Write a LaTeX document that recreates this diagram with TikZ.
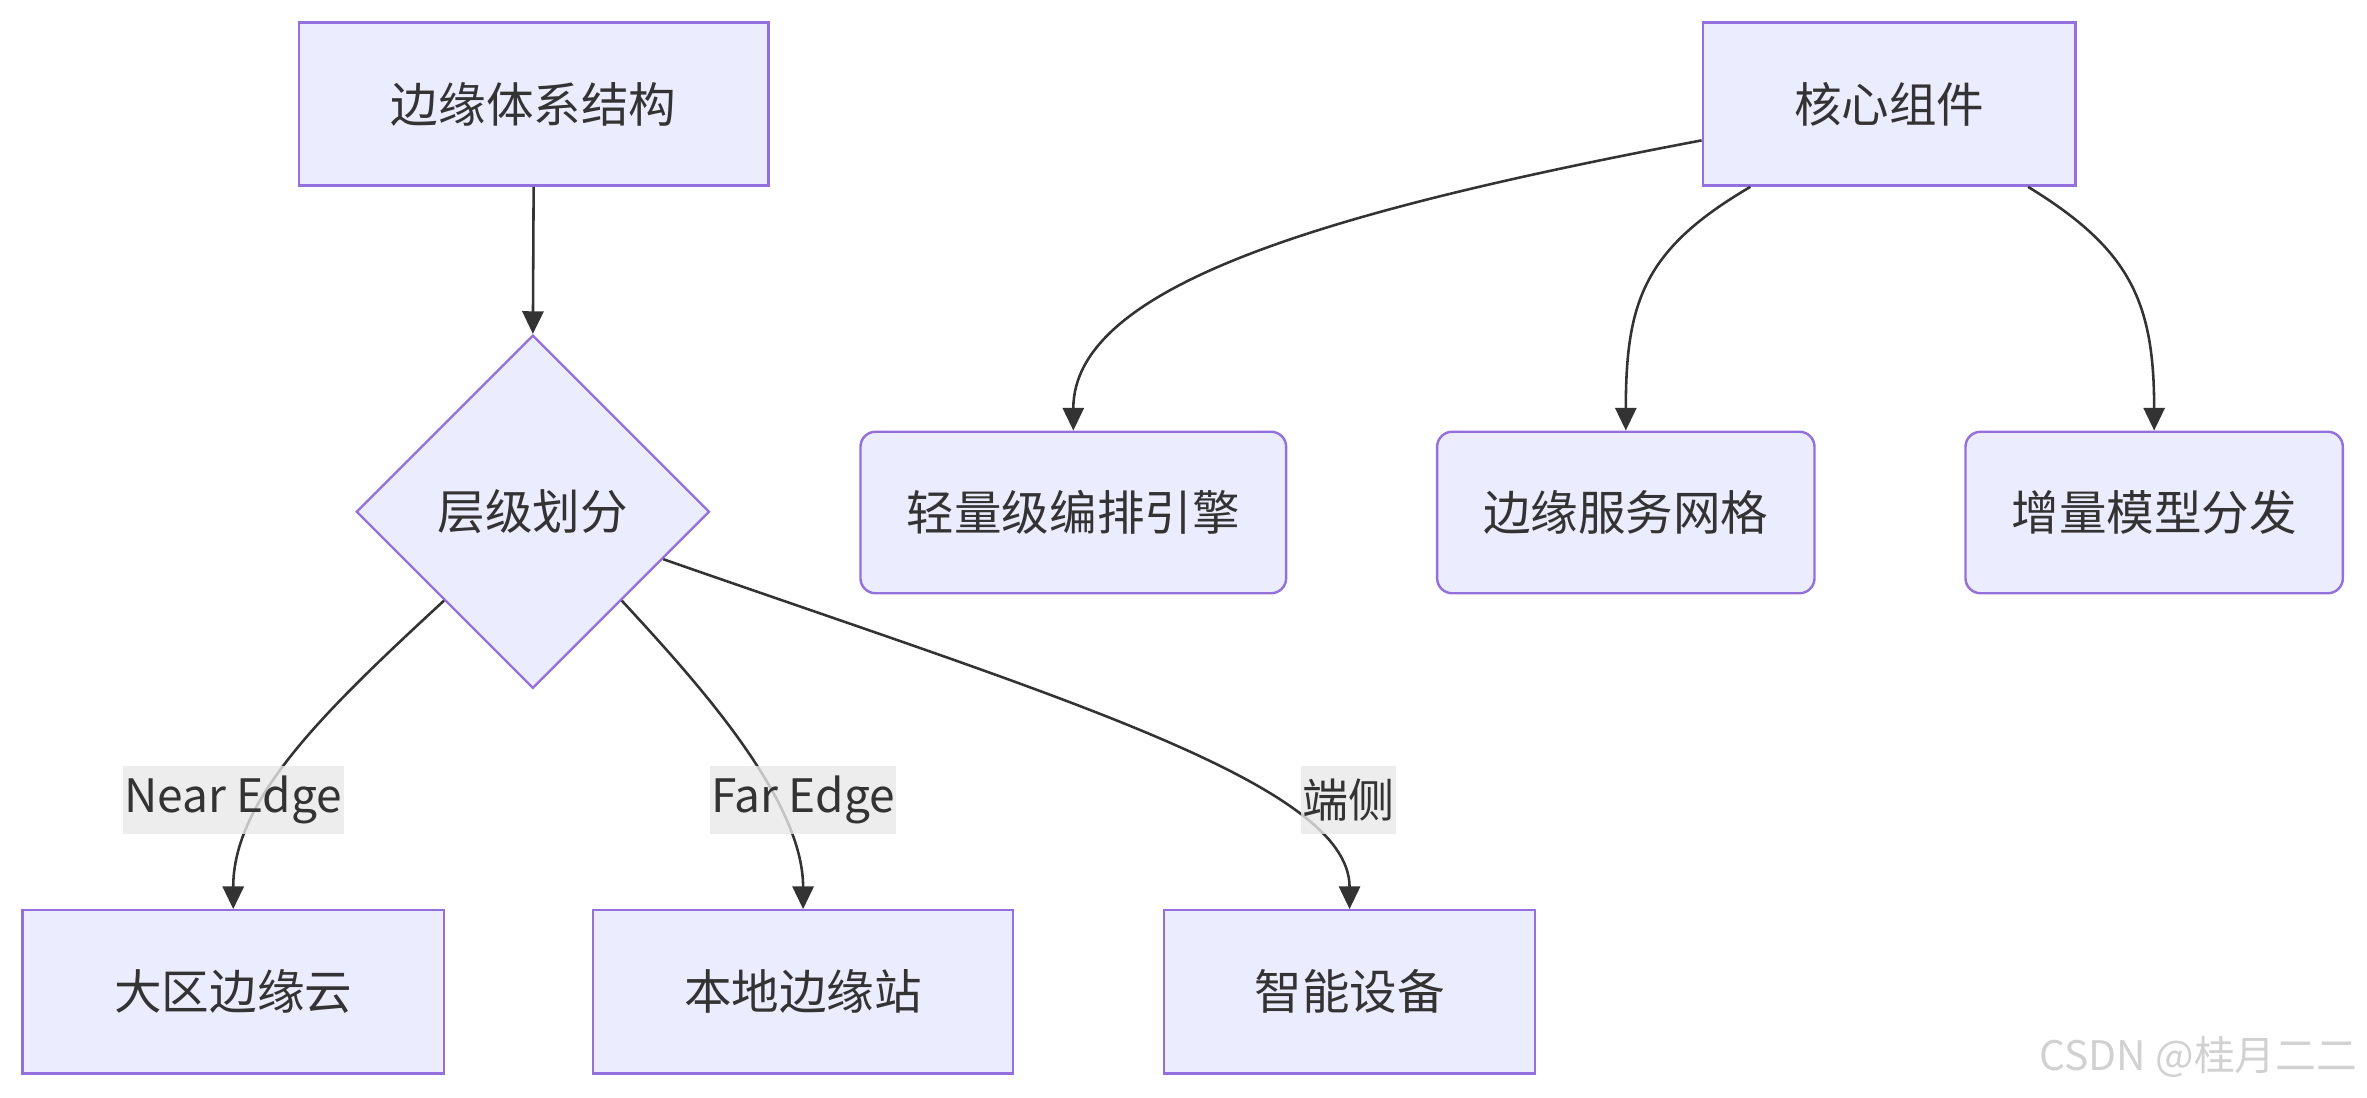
\documentclass[tikz,border=0pt]{standalone}
\usepackage{fontspec}
\setmainfont{Noto Sans CJK SC}
\usetikzlibrary{shapes.geometric,arrows.meta}
\definecolor{boxfill}{HTML}{ECECFF}
\definecolor{boxline}{HTML}{9370DB}
\definecolor{ink}{HTML}{333333}
\definecolor{lblfill}{HTML}{E8E8E8}
\begin{document}
\begin{tikzpicture}[x=1pt,y=-1pt,
    box/.style={draw=boxline,fill=boxfill,line width=1.6pt,text=ink,inner sep=0pt},
    roundbox/.style={box,rounded corners=10pt},
    decision/.style={box,diamond,shape aspect=1,minimum width=234pt,minimum height=234pt},
    lbl/.style={fill=lblfill,fill opacity=0.8,text opacity=1,text=ink,inner xsep=1pt,inner ysep=0pt,minimum height=45pt,font=\fontsize{30.5}{36}\selectfont},
    link/.style={draw=ink,line width=1.7pt,-{Triangle[length=15pt,width=14pt]}},
    font=\fontsize{31.5}{38}\selectfont]
    \useasboundingbox (0,0) rectangle (1568,727);
    % left tree
    \node[box,minimum width=311pt,minimum height=108pt] (arch) at (353.5,69) {边缘体系结构};
    \node[decision] (layer) at (353,339) {层级划分};
    \node[box,minimum width=279pt,minimum height=108pt] (near) at (154.5,657) {大区边缘云};
    \node[box,minimum width=278pt,minimum height=108pt] (far) at (532,657) {本地边缘站};
    \node[box,minimum width=246pt,minimum height=108pt] (device) at (894,657) {智能设备};
    % right tree
    \node[box,minimum width=247pt,minimum height=108pt] (core) at (1251.5,69) {核心组件};
    \node[roundbox,minimum width=282pt,minimum height=107pt] (orch) at (711,339.5) {轻量级编排引擎};
    \node[roundbox,minimum width=250pt,minimum height=107pt] (mesh) at (1077,339.5) {边缘服务网格};
    \node[roundbox,minimum width=250pt,minimum height=107pt] (model) at (1427,339.5) {增量模型分发};
    % links
    \draw[link] (arch.south) -- (layer.north);
    \draw[link] (layer.south west) .. controls +(-79,73) and +(0,-73) .. (near.north);
    \draw[link] (layer.south east) .. controls +(49,53) and +(0,-73) .. (far.north);
    \draw[link] (layer.-20) .. controls +(261,91) and +(0,-83) .. (device.north);
    \draw[link] ([yshift=-24pt]core.west) .. controls +(-248,47) and +(0,-96) .. (orch.north);
    \draw[link] ([xshift=-92pt]core.south) .. controls +(-70,41) and +(0,-86) .. (mesh.north);
    \draw[link] ([xshift=92pt]core.south) .. controls +(67,41) and +(0,-86) .. (model.north);
    % edge labels
    \node[lbl] (lnear) at (154.5,530) {Near Edge};
    \node[lbl] (lfar) at (532,530) {Far Edge};
    \node[lbl] (ldev) at (893.5,530) {端侧};
    % watermark
    \node[text=black!18,font=\fontsize{27}{32}\selectfont,anchor=east] (mark) at (1565,700) {CSDN @桂月二二};
\end{tikzpicture}
\end{document}
